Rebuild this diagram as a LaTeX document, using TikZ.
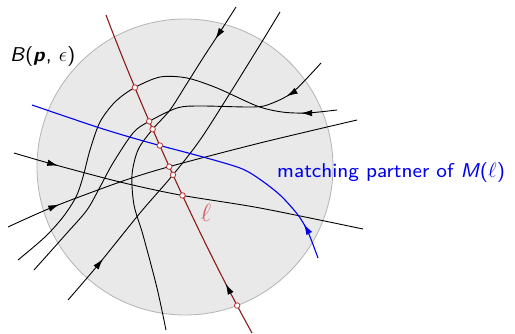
\documentclass[tikz,border=0pt]{standalone}
\usepackage{fontspec}
\newfontfamily\lmsE{lmsans8-regular.otf}[ItalicFont=lmsans8-oblique.otf, BoldFont=lmsans10-bold.otf, BoldItalicFont=lmsans10-boldoblique.otf]
\usetikzlibrary{arrows.meta,decorations.markings,intersections}
\definecolor{ellred}{RGB}{140,28,28}
\definecolor{dotred}{RGB}{190,50,50}
\definecolor{elllabel}{RGB}{205,95,95}
\definecolor{ballfill}{RGB}{233,233,233}
\definecolor{balledge}{RGB}{180,180,180}
\definecolor{mblue}{RGB}{0,0,235}
\begin{document}
\begin{tikzpicture}[x=1pt,y=-1pt,
  flow/.style={draw=black, line width=0.9pt},
  arr/.style={postaction={decorate}, decoration={markings, mark=at position #1 with {\arrow{Latex[length=11pt,width=6.5pt]}}}},
  hit/.style={circle, draw=dotred, fill=white, line width=0.8pt, inner sep=0pt, minimum size=5.5pt},
  lbl/.style={font=\fontsize{20}{24}\selectfont\lmsE}
]
\useasboundingbox (0,0) rectangle (515,334);
\filldraw[fill=ballfill, draw=balledge, line width=0.8pt, name path=circ] (185,167) circle[radius=148pt];

\draw[flow, arr=38pt, name path=A] plot[smooth] coordinates {(236,7) (220,32) (203,58) (186,85) (170,110) (152,130) (138,150) (132,175) (134,205) (143,235) (157,288) (166,330)};
\draw[flow, arr=54pt, name path=B] plot[smooth] coordinates {(68,300) (98,265) (140,213) (172,176) (200,140) (232,90) (263,40) (280,12)};
\draw[flow, arr=46pt, name path=C] plot[smooth] coordinates {(14,153) (52,164) (120,182) (180,195) (260,208) (363,229)};
\draw[flow, arr=56pt, name path=D] plot[smooth] coordinates {(8,227) (53,207) (120,182) (168,167) (260,143) (357,120)};
\draw[flow, arr=36pt, name path=E] plot[smooth] coordinates {(337,110) (307,113) (282,112) (257,106) (217,88) (187,78) (160,77) (134,88) (115,102) (100,122) (90,150) (83,177) (76,197) (63,217) (45,237) (18,260)};
\draw[flow, arr=48pt, name path=F] plot[smooth] coordinates {(321,63) (293,92) (270,104) (253,107) (200,106) (177,108) (148,122) (133,133) (113,163) (100,187) (87,210) (67,233) (34,270)};
\draw[mblue, line width=1.1pt, arr=37pt, name path=Bl] plot[smooth] coordinates {(318,258) (308,232) (298,215) (280,195) (258,178) (240,168) (203,157) (147,142) (100,128) (32,105)};

\draw[ellred, line width=1.1pt, name path=ell, postaction={decorate}, decoration={markings, mark=at position 56pt with {\arrow[black]{Latex[length=11pt,width=6.5pt]}}}] (252,333) .. controls (195,230) and (140,105) .. (106,15);

\path[name intersections={of=ell and A, by=iA}];
\path[name intersections={of=ell and B, by=iB}];
\path[name intersections={of=ell and C, by=iC}];
\path[name intersections={of=ell and D, by=iD}];
\path[name intersections={of=ell and E, by=iE}];
\path[name intersections={of=ell and F, by=iF}];
\path[name intersections={of=ell and Bl, by=iBl}];
\path[name intersections={of=ell and circ, sort by=ell, by={iO}}];
\foreach \p in {iA,iB,iC,iD,iE,iF,iBl,iO} \node[hit] (dot\p) at (\p) {};

\node[lbl, anchor=base west, inner sep=0pt] (ballname) at (10,62) {\textit{B}(\textbf{\textit{p}}, $\epsilon$)};
\node[lbl, text=mblue, anchor=base west, inner sep=0pt] (partner) at (277,178) {matching partner of \textit{M}($\ell$)};
\node[font=\fontsize{24}{24}\selectfont, text=elllabel] (elllbl) at (206,213) {$\ell$};
\end{tikzpicture}
\end{document}
